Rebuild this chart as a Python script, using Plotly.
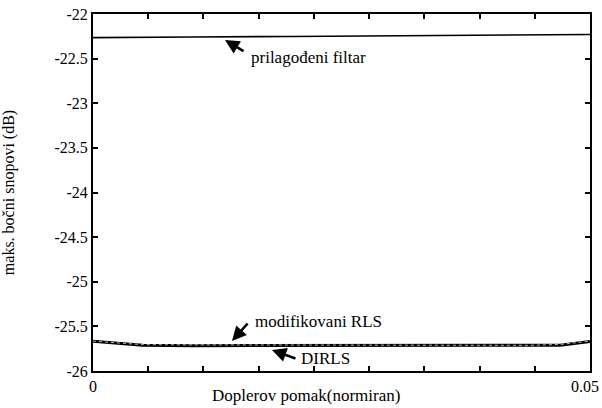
import plotly.graph_objects as go
import numpy as np

# Data
doppler = [0, 0.0025, 0.005, 0.01, 0.02, 0.03, 0.04, 0.044, 0.047, 0.05]
prilagodeni = [-22.265, -22.262, -22.26, -22.257, -22.252, -22.246, -22.24, -22.236, -22.233, -22.23]
modifikovani_rls = [-25.665, -25.688, -25.705, -25.708, -25.708, -25.708, -25.712, -25.712, -25.703, -25.665]
dirls = [-25.668, -25.692, -25.712, -25.716, -25.716, -25.717, -25.72, -25.72, -25.712, -25.668]

x_tickvals = list(np.linspace(0, 0.05, 10))
x_ticktext = ["0"] + [""] * 9
x_end_label = "0.05"
y_tickvals = [-26, -25.5, -25, -24.5, -24, -23.5, -23, -22.5, -22]
y_ticktext = ["-26", "-25.5", "-25", "-24.5", "-24", "-23.5", "-23", "-22.5", "-22"]

FONT = "Liberation Serif, Times New Roman, serif"

W, H = 602, 408
L, T, R_EDGE, B_EDGE = 93, 14, 590, 371

fig = go.Figure()
fig.add_trace(go.Scatter(x=doppler, y=prilagodeni, mode="lines",
                         line=dict(color="black", width=1.6), name="prilagođeni filtar"))
fig.add_trace(go.Scatter(x=doppler, y=dirls, mode="lines",
                         line=dict(color="black", width=3), name="DIRLS"))
fig.add_trace(go.Scatter(x=doppler, y=modifikovani_rls, mode="lines",
                         line=dict(color="#bbbbbb", width=1, dash="dot"), name="modifikovani RLS"))

def px2data(px, py):
    return (px - L) / (R_EDGE - L) * 0.05, -22 - (py - T) / ((B_EDGE - T) / 4)

def arrow(hx, hy, ax, ay):
    x, y = px2data(hx, hy)
    fig.add_annotation(x=x, y=y, xref="x", yref="y", ax=ax, ay=ay, text="",
                       showarrow=True, arrowhead=2, arrowsize=1.1, arrowwidth=2.6,
                       arrowcolor="black")

arrow(225, 40, 20, 12)
arrow(232, 341, 17, -19)
arrow(272, 350, 25, 9)

def label(px, py, text):
    x, y = px2data(px, py)
    fig.add_annotation(x=x, y=y, xref="x", yref="y", text=text, showarrow=False,
                       xanchor="left", yanchor="middle",
                       font=dict(family=FONT, size=17, color="black"))

label(249, 57, "prilagođeni filtar")
label(253, 321, "modifikovani RLS")
label(299, 358, "DIRLS")

def paper_text(px, py, text, size):
    fig.add_annotation(x=(px - L) / (R_EDGE - L), y=-(py - B_EDGE) / (B_EDGE - T),
                       xref="paper", yref="paper", text=text, showarrow=False,
                       xanchor="center", yanchor="middle",
                       font=dict(family=FONT, size=size, color="black"))

paper_text(306, 395, "Doplerov pomak(normiran)", 17)
paper_text(585, 386, x_end_label, 16)

fig.update_layout(
    width=W, height=H,
    margin=dict(l=L, r=W - R_EDGE, t=T, b=H - B_EDGE),
    paper_bgcolor="white", plot_bgcolor="white",
    showlegend=False,
    font=dict(family=FONT, size=16, color="black"),
)
fig.update_xaxes(range=[0, 0.05], tickvals=x_tickvals, ticktext=x_ticktext,
                 ticks="inside", ticklen=5, tickwidth=1.5, tickcolor="black",
                 showline=True, linecolor="black", linewidth=2, mirror="ticks",
                 showgrid=False, zeroline=False, automargin=False,
                 ticklabeloverflow="allow",
                 tickfont=dict(family=FONT, size=16))
fig.update_yaxes(range=[-26, -22], tickvals=y_tickvals, ticktext=y_ticktext,
                 ticks="inside", ticklen=5, tickwidth=1.5, tickcolor="black",
                 showline=True, linecolor="black", linewidth=2, mirror="ticks",
                 showgrid=False, zeroline=False, automargin=False,
                 ticklabeloverflow="allow",
                 title=dict(text="maks. bočni snopovi (dB)", standoff=52,
                            font=dict(family=FONT, size=16)),
                 tickfont=dict(family=FONT, size=16))

fig.write_html("out.html", config={"displayModeBar": False},
               post_script="document.body.style.margin='0';")
